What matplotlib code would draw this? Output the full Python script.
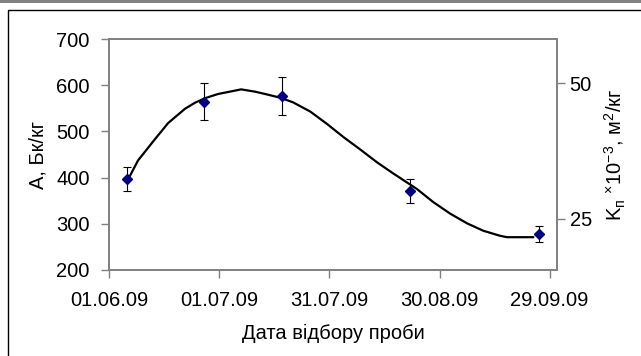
import datetime as dt
import matplotlib
matplotlib.use('Agg')
import matplotlib.pyplot as plt
import matplotlib.dates as mdates
from matplotlib.patches import Rectangle

plt.rcParams['font.family'] = ['Liberation Sans', 'DejaVu Sans']
plt.rcParams['mathtext.fontset'] = 'custom'
plt.rcParams['mathtext.rm'] = 'Liberation Sans'
plt.rcParams['mathtext.it'] = 'Liberation Sans'

# measured points (date, activity A, error)
dates = ['06.06.09', '27.06.09', '18.07.09', '22.08.09', '26.09.09']
A = [397, 564, 576, 371, 278]
A_err = [27, 40, 41, 25, 18]

# fitted curve: days after 01.06.09, A value
curve_days = [5.4, 7.9, 12.5, 16.1, 20.7, 23.4, 26.2, 29.7, 33.5, 36.0, 39.8,
              42.5, 46.6, 50.1, 54.8, 59.4, 63.8, 68.4, 73.0, 77.4, 82.0, 83.9,
              88.3, 92.9, 97.5, 101.9, 106.5, 108.4, 115.5]
curve_A = [399, 437, 483, 518, 549, 562, 572, 581, 587, 591, 586,
           581, 573, 563, 543, 516, 488, 461, 433, 409, 385, 375,
           347, 322, 301, 285, 274, 271, 271]

xticks = ['01.06.09', '01.07.09', '31.07.09', '30.08.09', '29.09.09']
yticks_right = [25, 50]

start = dt.datetime(2009, 6, 1)
x_pts = [dt.datetime.strptime(d, '%d.%m.%y') for d in dates]
x_curve = [start + dt.timedelta(days=d) for d in curve_days]
x_ticks = [dt.datetime.strptime(d, '%d.%m.%y') for d in xticks]

fs = 14.5
fig = plt.figure(figsize=(6.41, 3.56), dpi=100)
ax = fig.add_axes([0.170, 0.2416, 0.699, 0.6488])

ax.plot(x_curve, curve_A, color='black', lw=1.6, zorder=2)
ax.errorbar(x_pts, A, yerr=A_err, fmt='D', color='#000080', ms=5.5,
            ecolor='black', elinewidth=0.8, capsize=3, capthick=0.8, zorder=3)

ax.set_xlim(start, dt.datetime(2009, 10, 1))
ax.set_ylim(200, 700)
ax.set_yticks([200, 300, 400, 500, 600, 700])
ax.set_xticks(x_ticks)
ax.xaxis.set_major_formatter(mdates.DateFormatter('%d.%m.%y'))
ax.tick_params(labelsize=fs, length=6, width=1, color='#808080')
ax.tick_params(axis='y', pad=8)
ax.tick_params(axis='x', pad=9)
for s in ax.spines.values():
    s.set_color('#808080')
    s.set_linewidth(1.2)

ax.set_ylabel('А, Бк/кг', fontsize=fs, labelpad=6)
ax.set_xlabel('Дата відбору проби', fontsize=fs, labelpad=10)

ax2 = ax.twinx()
ax2.set_ylim(15.6, 58.1)
ax2.set_yticks(yticks_right)
ax2.tick_params(labelsize=fs, length=6, width=1, color='#808080', pad=3)
for s in ax2.spines.values():
    s.set_color('#808080')
    s.set_linewidth(1.2)
ax2.set_ylabel(r'K$_\mathregular{п}$ $^\mathregular{×}$10$^\mathregular{-3}$, м$^\mathregular{2}$/кг',
               fontsize=fs, labelpad=8)

# outer chart frame and top band
fig.add_artist(Rectangle((8 / 641, -0.1), 1.0, (356 - 10) / 356 + 0.1,
                         transform=fig.transFigure, fill=False,
                         edgecolor='black', lw=1))
fig.add_artist(Rectangle((0, 1 - 3 / 356), 1, 3 / 356, transform=fig.transFigure,
                         color='#808080', lw=0))

fig.savefig('out.png', dpi=100)
